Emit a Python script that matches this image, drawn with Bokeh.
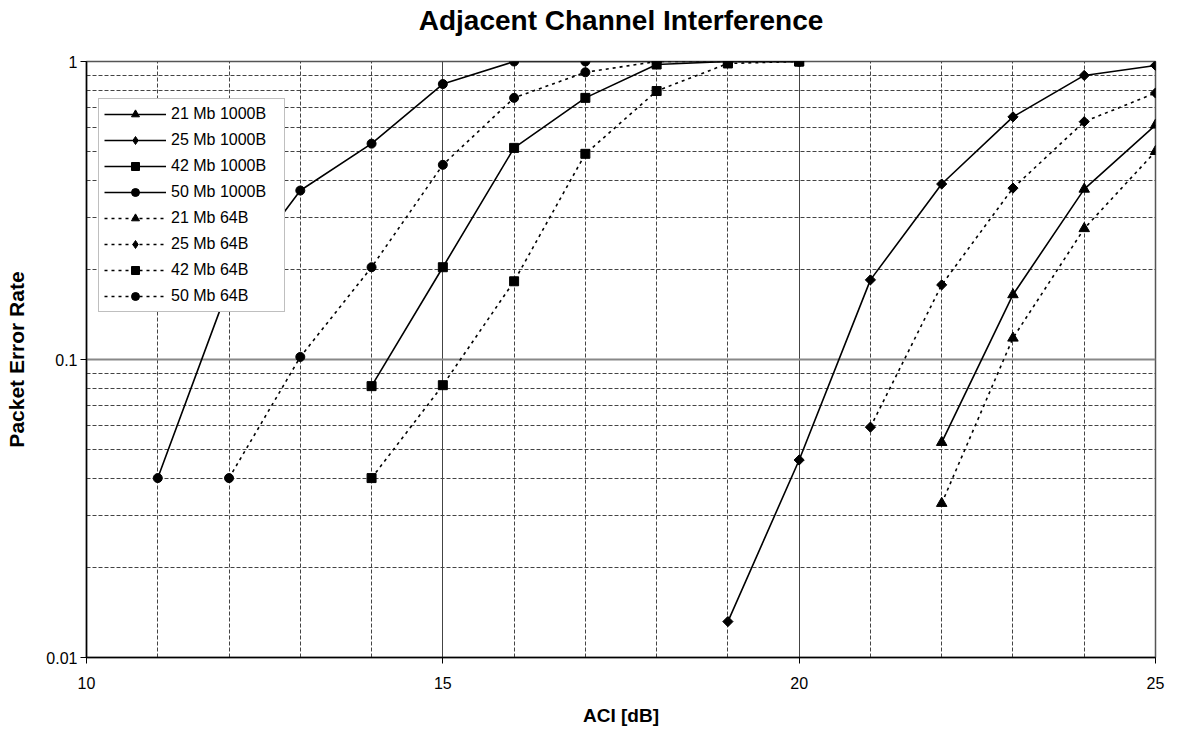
import math
from bokeh.plotting import figure
from bokeh.models import Range1d, SingleIntervalTicker, FixedTicker, Legend, LegendItem, Title
from bokeh.embed import file_html
from bokeh.resources import INLINE

# ---- data ----
title_text = "Adjacent Channel Interference"
x_label = "ACI [dB]"
y_label = "Packet Error Rate"

y_major_ticks = [0.01, 0.1, 1]
y_major_labels = ["0.01", "0.1", "1"]
y_minor_ticks = [0.02, 0.03, 0.04, 0.05, 0.06, 0.07, 0.08, 0.09,
                 0.2, 0.3, 0.4, 0.5, 0.6, 0.7, 0.8, 0.9]

aci_21_1000 = [22, 23, 24, 25]
per_21_1000 = [0.0527, 0.165, 0.373, 0.612]

aci_25_1000 = [19, 20, 21, 22, 23, 24, 25]
per_25_1000 = [0.0132, 0.046, 0.185, 0.388, 0.652, 0.898, 0.97]

aci_42_1000 = [14, 15, 16, 17, 18, 19, 20]
per_42_1000 = [0.0814, 0.204, 0.513, 0.755, 0.977, 1.0, 1.0]

aci_50_1000 = [11, 12, 13, 14, 15, 16, 17, 18, 19, 20]
per_50_1000 = [0.04, 0.177, 0.369, 0.53, 0.84, 1.0, 1.0, 1.0, 1.0, 1.0]

aci_21_64 = [22, 23, 24, 25]
per_21_64 = [0.0329, 0.118, 0.275, 0.499]

aci_25_64 = [21, 22, 23, 24, 25]
per_25_64 = [0.0593, 0.178, 0.376, 0.628, 0.784]

aci_42_64 = [14, 15, 16, 17, 18, 19, 20]
per_42_64 = [0.04, 0.082, 0.183, 0.49, 0.796, 0.985, 1.0]

aci_50_64 = [12, 13, 14, 15, 16, 17, 18, 19, 20]
per_50_64 = [0.04, 0.102, 0.204, 0.45, 0.755, 0.92, 1.0, 1.0, 1.0]

series_names = ["21 Mb 1000B", "25 Mb 1000B", "42 Mb 1000B", "50 Mb 1000B",
                "21 Mb 64B", "25 Mb 64B", "42 Mb 64B", "50 Mb 64B"]
series_x = [aci_21_1000, aci_25_1000, aci_42_1000, aci_50_1000,
            aci_21_64, aci_25_64, aci_42_64, aci_50_64]
series_y = [per_21_1000, per_25_1000, per_42_1000, per_50_1000,
            per_21_64, per_25_64, per_42_64, per_50_64]

FONT = "Liberation Sans"

p = figure(width=1170, height=728, output_backend="svg", toolbar_location=None,
           title=None,
           x_range=Range1d(10, 25), y_range=Range1d(0.01, 1), y_axis_type="log",
           min_border_left=86, min_border_top=61, min_border_right=15, min_border_bottom=67)

# spacer title (closest to the frame) pushes the real title to the top
p.add_layout(Title(text=" ", text_font=FONT, text_font_size="18px", standoff=2), "above")
p.add_layout(Title(text=title_text, align="center", text_font=FONT,
                   text_font_size="28px", text_font_style="bold",
                   text_color="black", standoff=4), "above")

p.xaxis.ticker = SingleIntervalTicker(interval=5, num_minor_ticks=5)
p.yaxis.ticker = FixedTicker(ticks=y_major_ticks, minor_ticks=y_minor_ticks)
p.yaxis.major_label_overrides = {t: l for t, l in zip(y_major_ticks, y_major_labels)}

p.xaxis.axis_label = x_label
p.yaxis.axis_label = y_label
for ax in (p.xaxis, p.yaxis):
    ax.axis_label_text_font = FONT
    ax.axis_label_text_font_style = "bold"
    ax.axis_label_text_color = "black"
    ax.major_label_text_font = FONT
    ax.major_label_text_font_size = "16px"
    ax.major_label_text_color = "black"
    ax.axis_line_color = "black"
    ax.axis_line_width = 1.5
    ax.major_tick_line_color = "black"
    ax.major_tick_out = 6
    ax.major_tick_in = 0
    ax.minor_tick_line_color = None
p.xaxis.axis_label_text_font_size = "19px"
p.yaxis.axis_label_text_font_size = "21px"
p.xaxis.major_label_standoff = 13
p.xaxis.axis_label_standoff = 13
p.yaxis.major_label_standoff = 3
p.yaxis.axis_label_standoff = 15

p.xgrid.grid_line_color = "#444444"
p.xgrid.grid_line_width = 1
p.xgrid.minor_grid_line_color = "#444444"
p.xgrid.minor_grid_line_dash = "4 2"
p.ygrid.grid_line_color = "#888888"
p.ygrid.grid_line_width = 2
p.ygrid.minor_grid_line_color = "#444444"
p.ygrid.minor_grid_line_dash = "4 2"

p.outline_line_color = "#555555"
p.outline_line_width = 1.5
p.background_fill_color = "white"
p.border_fill_color = "white"

markers = ["triangle", "diamond", "square", "circle"] * 2
items = []
for i, (name, xs, ys) in enumerate(zip(series_names, series_x, series_y)):
    dash = "solid" if i < 4 else "3 4"
    ln = p.line(xs, ys, line_color="black", line_width=1.6, line_dash=dash)
    m = markers[i]
    if m == "diamond":
        # plain diamond (used by the legend), hidden under the rotated square
        lg = p.scatter(xs, ys, marker="diamond", size=9,
                       fill_color="black", line_color="black")
        p.scatter(xs, ys, marker="square", angle=math.pi / 4, size=7.2,
                  fill_color="black", line_color="black")
        items.append(LegendItem(label=name, renderers=[ln, lg]))
        continue
    elif m == "triangle":
        sc = p.scatter(xs, ys, marker="triangle", size=10.5,
                       fill_color="black", line_color="black")
    else:
        sc = p.scatter(xs, ys, marker=m, size=9,
                       fill_color="black", line_color="black")
    items.append(LegendItem(label=name, renderers=[ln, sc]))

legend = Legend(items=items, location=(12, 345))
legend.label_text_font = FONT
legend.label_text_font_size = "16px"
legend.label_text_color = "black"
legend.glyph_width = 62
legend.glyph_height = 20
legend.label_height = 20
legend.label_width = 108
legend.spacing = 6
legend.padding = 5
legend.margin = 0
legend.label_standoff = 5
legend.border_line_color = "#808080"
legend.border_line_width = 1.5
legend.background_fill_color = "white"
legend.background_fill_alpha = 1.0
p.add_layout(legend, "center")

open("out.html", "w").write(file_html(p, INLINE))
